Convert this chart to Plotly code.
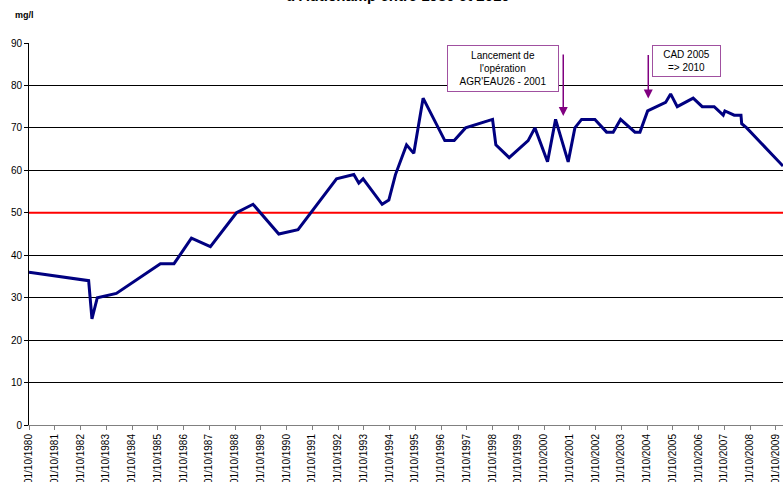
import plotly.graph_objects as go

# --- data -------------------------------------------------------------
dates = [
    "1980-10-01", "1983-01-25", "1983-03-13", "1983-05-28", "1984-02-22",
    "1985-11-08", "1986-05-20", "1987-01-22", "1987-10-18", "1988-10-22",
    "1989-06-14", "1990-06-14", "1991-03-14", "1992-09-10", "1993-05-13",
    "1993-07-23", "1993-09-22", "1994-06-19", "1994-09-22", "1994-12-25",
    "1995-05-31", "1995-09-11", "1996-01-21", "1996-08-24", "1996-11-24",
    "1997-04-06", "1997-09-14", "1998-10-02", "1998-11-18", "1999-05-26",
    "2000-02-19", "2000-05-25", "2000-11-20", "2001-03-14", "2001-09-09",
    "2001-12-13", "2002-03-18", "2002-09-23", "2003-03-08", "2003-06-09",
    "2003-09-22", "2004-04-13", "2004-06-23", "2004-10-10", "2005-06-22",
    "2005-09-01", "2005-12-04", "2006-07-18", "2006-11-23", "2007-05-12",
    "2007-09-17", "2007-10-11", "2008-02-20", "2008-05-26", "2008-06-05",
    "2008-08-15", "2010-01-12",
]
nitrates = [
    36, 34, 25, 30, 31,
    38, 38, 44, 42, 50,
    52, 45, 46, 58, 59,
    57, 58, 52, 53, 59,
    66, 64, 77, 70, 67,
    67, 70, 72, 66, 63,
    67, 70, 62, 72, 62,
    70, 72, 72, 69, 69,
    72, 69, 69, 74, 76,
    78, 75, 77, 75, 75,
    73, 74, 73, 73, 71,
    70, 61,
]
limit_dates = ["1980-10-01", "2010-01-12"]
limit_values = [50, 50]

y_ticks = [0, 10, 20, 30, 40, 50, 60, 70, 80, 90]
x_range = ["1980-10-01", "2010-01-12"]

FONT = "Arial, Liberation Sans, sans-serif"
PURPLE = "#800080"

fig = go.Figure()
fig.add_trace(go.Scatter(x=limit_dates, y=limit_values, mode="lines",
                         line=dict(color="#FF0000", width=2), hoverinfo="skip",
                         showlegend=False))
fig.add_trace(go.Scatter(x=dates, y=nitrates, mode="lines",
                         line=dict(color="#000080", width=3),
                         showlegend=False))

fig.update_layout(
    width=783, height=482,
    margin=dict(l=29, r=0, t=43, b=57),
    paper_bgcolor="white", plot_bgcolor="white",
    font=dict(family=FONT, size=10, color="black"),
    xaxis=dict(
        type="date", range=x_range, tick0="1980-10-01", dtick="M12",
        tickformat="%d/%m/%Y", tickangle=-90, showgrid=False,
        showline=True, linecolor="#808080", linewidth=1,
        ticks="outside", ticklen=4, tickcolor="#808080",
        tickfont=dict(size=10, color="black"), automargin=False,
        zeroline=False,
    ),
    yaxis=dict(
        range=[0, 90], tickvals=y_ticks, showgrid=True, gridcolor="black",
        gridwidth=1, showline=True, linecolor="black", linewidth=1,
        ticks="outside", ticklen=4, tickcolor="black",
        tickfont=dict(size=10, color="black"), automargin=False,
        zeroline=False,
    ),
)

# title (only its last line is visible in the frame)
fig.add_annotation(text="<b>d'Autichamp entre 1980 et 2010</b>", xref="paper", yref="paper",
                   x=0.49, y=1.098, xanchor="center", yanchor="bottom", showarrow=False,
                   font=dict(family=FONT, size=15, color="black"))
# unit label
fig.add_annotation(text="<b>mg/l</b>", xref="paper", yref="paper", x=-0.006, y=1.073,
                   xanchor="center", yanchor="middle", showarrow=False,
                   font=dict(family=FONT, size=9, color="black"))

# boxes
fig.add_annotation(text="Lancement de<br>l'opération<br>AGR'EAU26 - 2001",
                   x="1999-02-22", y=84.1, xanchor="center", yanchor="middle",
                   showarrow=False, bordercolor="#A050A0", borderwidth=1, borderpad=2,
                   bgcolor="white", width=106, height=41,
                   font=dict(family=FONT, size=10, color="black"))
fig.add_annotation(text="CAD 2005<br>=> 2010",
                   x="2006-04-21", y=85.8, xanchor="center", yanchor="middle",
                   showarrow=False, bordercolor="#A050A0", borderwidth=1, borderpad=2,
                   bgcolor="white", width=63, height=26,
                   font=dict(family=FONT, size=10, color="black"))
# arrows
fig.add_annotation(text="", x="2001-07-01", y=72.8, ax=0, ay=-63, showarrow=True,
                   arrowhead=2, arrowsize=1.2, arrowwidth=1.5, arrowcolor=PURPLE,
                   standoff=0)
fig.add_annotation(text="", x="2004-10-19", y=76.9, ax=0, ay=-45, showarrow=True,
                   arrowhead=2, arrowsize=1.2, arrowwidth=1.5, arrowcolor=PURPLE,
                   standoff=0)

fig.write_html(
    "out.html",
    config={"displayModeBar": False},
    post_script="document.body.style.margin='0';document.body.style.overflow='hidden';",
)
